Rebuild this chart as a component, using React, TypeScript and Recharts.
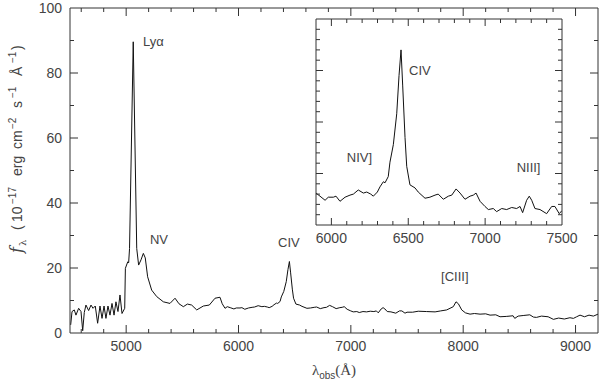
import React from 'react';
import { LineChart, Line, XAxis, YAxis, ReferenceDot } from 'recharts';

const wave = [
  4506, 4518, 4538, 4553, 4577, 4598, 4613, 4627, 4642, 4666, 4687, 4705, 4725, 4746, 4767, 4785,
  4803, 4820, 4838, 4856, 4874, 4892, 4909, 4927, 4945, 4963, 4987, 4993, 5014, 5022, 5030, 5063,
  5094, 5111, 5132, 5153, 5170, 5191, 5227, 5272, 5331, 5390, 5435, 5470, 5509, 5545, 5583, 5628,
  5687, 5740, 5791, 5835, 5855, 5880,
  5900, 5926, 5959, 5980, 6013, 6030, 6056, 6089, 6121, 6143, 6175, 6208, 6230, 6256, 6273, 6299,
  6316, 6338, 6349, 6370, 6381, 6403, 6425, 6440, 6453, 6464, 6479, 6490, 6511, 6544, 6565, 6609,
  6641, 6674, 6695, 6728, 6761, 6783, 6811, 6837, 6869, 6902, 6923, 6941, 6967, 6999, 7021, 7053,
  7075, 7108, 7140, 7173, 7205, 7227, 7244, 7270, 7287, 7303, 7324, 7357, 7400, 7433, 7454, 7482,
  7500,
  7550, 7600, 7675, 7750, 7800, 7853, 7912, 7936, 7957, 7987, 8020, 8061, 8100, 8150, 8200, 8239,
  8290, 8328, 8383, 8444, 8459, 8489, 8540, 8593, 8625, 8652, 8697, 8756, 8803, 8850, 8900, 8950,
  8981, 9010, 9040, 9080, 9120, 9159, 9200,
];
const flux = [
  2.5, 6.6, 7.1, 5.5, 7.6, 6.6, 0.7, 6.3, 8.6, 6.9, 8.6, 7.6, 8.3, 3.0, 8.3, 4.5,
  8.3, 4.5, 8.3, 5.5, 9.1, 5.5, 9.6, 6.6, 11.7, 6.0, 7.6, 19.9, 21.9, 21.6, 26, 89.6,
  26, 20.9, 22.5, 24.5, 23.1, 17.3, 13.2, 11.2, 9.6, 9.1, 10.7, 9.0, 8.1, 8.9, 8.6, 7.1,
  8.3, 8.6, 10.7, 11.0, 9.0, 7.6,
  8.1, 7.8, 7.4, 7.7, 7.7, 7.8, 7.3, 7.7, 7.9, 8.0, 8.4, 8.1, 8.2, 8.0, 7.8, 8.2,
  8.7, 9.2, 9.1, 9.7, 11.1, 12.8, 15.8, 19.5, 22.0, 18.5, 13.5, 10.7, 8.9, 8.6, 8.2, 7.6,
  7.7, 7.9, 8.0, 7.5, 7.8, 7.9, 8.5, 8.1, 7.5, 7.8, 7.9, 8.1, 7.3, 6.8, 6.5, 6.6,
  6.3, 6.6, 6.5, 6.7, 6.6, 6.8, 6.2, 7.4, 7.8, 7.4, 6.6, 6.5, 6.1, 6.8, 6.8, 6.1,
  6.4,
  6.4, 6.7, 6.6, 6.5, 6.8, 7.1, 8.1, 9.6, 9.0, 7.1, 6.2, 5.8, 6.0, 5.8, 5.9, 5.5,
  5.6, 5.0, 5.1, 5.3, 4.5, 5.2, 5.4, 5.6, 4.9, 4.8, 5.2, 5.0, 4.2, 4.6, 4.3, 4.7,
  4.5, 5.0, 5.5, 5.0, 5.5, 5.2, 5.8,
];

const mainXDomain = [4500, 9200];
const mainYDomain = [0, 100];
const mainXTicks = [4600, 4800, 5000, 5200, 5400, 5600, 5800, 6000, 6200, 6400, 6600, 6800, 7000,
  7200, 7400, 7600, 7800, 8000, 8200, 8400, 8600, 8800, 9000];
const mainXLabels = [5000, 6000, 7000, 8000, 9000];
const mainYTicks = [10, 20, 30, 40, 50, 60, 70, 80, 90];
const mainYLabels = [0, 20, 40, 60, 80, 100];

const insetXDomain = [5900, 7500];
const insetYDomain = [5, 25];
const insetXTicks = [6000, 6100, 6200, 6300, 6400, 6500, 6600, 6700, 6800, 6900, 7000, 7100, 7200, 7300, 7400];
const insetXLabels = [6000, 6500, 7000, 7500];
const insetYTicks = [6, 7, 8, 9, 10, 11, 12, 13, 14, 15, 16, 17, 18, 19, 20, 21, 22, 23, 24];
const insetYMajors = [10, 15, 20];

// line identifications: text, wavelength of its left edge, flux at its baseline
const mainLines = [
  { name: 'Lyα', w: 5150, f: 88.3 },
  { name: 'NV', w: 5212, f: 27.4 },
  { name: 'CIV', w: 6352, f: 26.6 },
  { name: '[CIII]', w: 7803, f: 16.1 },
];
const insetLines = [
  { name: 'CIV', w: 6505, f: 19.6 },
  { name: 'NIV]', w: 6100, f: 11.1 },
  { name: 'NIII]', w: 7205, f: 10.1 },
];

const spectrum = wave.map((w, i) => ({ wave: w, flux: flux[i] }));
const insetData = spectrum.filter(d => d.wave >= 5900 && d.wave <= 7500);

const AXIS = '#333';
const TEXT = '#444';
const FONT = '"Liberation Sans", Arial, sans-serif';

// tick labels only; tick marks are drawn as reference dots below
const xLabel = (labels: number[]) => (p: any) =>
  labels.includes(p.payload.value) ? (
    <text x={p.x} y={Number(p.y) + 18} textAnchor="middle" fontSize={14} fontFamily={FONT} fill={TEXT}>
      {p.payload.value}
    </text>
  ) : <g />;

const yLabel = (p: any) => (
  <text x={Number(p.x) - 8} y={Number(p.y) + 5} textAnchor="end" fontSize={14} fontFamily={FONT} fill={TEXT}>
    {p.payload.value}
  </text>
);

// inward tick mark of fixed pixel length; dx/dy give its direction
const tickMark = (dx: number, dy: number, len: number) => (p: any) => (
  <path d={`M${p.cx},${p.cy}l${dx * len},${dy * len}`} stroke={AXIS} strokeWidth={1} fill="none" />
);

const lineLabel = (name: string) => (p: any) => (
  <text x={p.cx} y={p.cy} fontSize={13} fontFamily={FONT} fill={TEXT}>{name}</text>
);

const YTitle = () => (
  <g transform="translate(22,253) rotate(-90)" fontFamily={FONT} fill={TEXT} fontSize={14}>
    <text x={0} y={0} fontFamily='"DejaVu Serif", serif' fontStyle="italic" fontSize={16}>f</text>
    <text x={7} y={4} fontFamily='"DejaVu Serif", serif' fontSize={10}>λ</text>
    <text x={23} y={0}>(</text>
    <text x={31} y={0}>10</text>
    <text x={49} y={-6} fontSize={10}>−17</text>
    <text x={77} y={0}>erg</text>
    <text x={104} y={0}>cm</text>
    <text x={124} y={-6} fontSize={10}>−2</text>
    <text x={145} y={0}>s</text>
    <text x={155} y={-6} fontSize={10}>−1</text>
    <text x={177} y={0}>Å</text>
    <text x={190} y={-6} fontSize={10}>−1</text>
    <text x={203} y={0}>)</text>
  </g>
);

const XTitle = (props: any) => {
  const vb = props.viewBox;
  return (
    <text x={vb.x + vb.width / 2} y={vb.y + 42} textAnchor="middle" fontSize={15} fontFamily='"Liberation Serif", serif' fill={TEXT}>
      <tspan>λ</tspan>
      <tspan fontSize={10} fontFamily={FONT} dy={4}>obs</tspan>
      <tspan dy={-4}>(Å)</tspan>
    </text>
  );
};

// tick marks on all four sides of a frame
const frameTicks = (
  key: string, xTicks: number[], xMajors: number[], yTicks: number[], yMajors: number[],
  xDomain: number[], yDomain: number[], minor: number, major: number,
) => {
  const out: React.ReactNode[] = [];
  xTicks.forEach(v => {
    const len = xMajors.includes(v) ? major : minor;
    out.push(<ReferenceDot key={`${key}b${v}`} xAxisId="b" yAxisId="l" x={v} y={yDomain[0]} r={0} ifOverflow="visible" shape={tickMark(0, -1, len)} />);
    out.push(<ReferenceDot key={`${key}t${v}`} xAxisId="b" yAxisId="l" x={v} y={yDomain[1]} r={0} ifOverflow="visible" shape={tickMark(0, 1, len)} />);
  });
  yTicks.forEach(v => {
    const len = yMajors.includes(v) ? major : minor;
    out.push(<ReferenceDot key={`${key}l${v}`} xAxisId="b" yAxisId="l" x={xDomain[0]} y={v} r={0} ifOverflow="visible" shape={tickMark(1, 0, len)} />);
    out.push(<ReferenceDot key={`${key}r${v}`} xAxisId="b" yAxisId="l" x={xDomain[1]} y={v} r={0} ifOverflow="visible" shape={tickMark(-1, 0, len)} />);
  });
  return out;
};

export default function App() {
  return (
    <div style={{ position: 'absolute', left: 0, top: 0, width: 600, height: 383, background: '#fff' }}>
      <LineChart width={600} height={383} data={spectrum} margin={{ top: 7, right: 1, bottom: 0, left: 0 }}>
        <XAxis
          xAxisId="b" dataKey="wave" type="number" domain={mainXDomain} allowDataOverflow
          ticks={mainXTicks} interval={0} tickSize={0} tickMargin={0} height={50}
          axisLine={{ stroke: AXIS }} tickLine={false} tick={xLabel(mainXLabels)} label={{ content: XTitle }}
        />
        <XAxis
          xAxisId="t" orientation="top" dataKey="wave" type="number" domain={mainXDomain} allowDataOverflow
          height={1} axisLine={{ stroke: AXIS }} tickLine={false} tick={false}
        />
        <YAxis
          yAxisId="l" type="number" domain={mainYDomain} allowDataOverflow ticks={mainYLabels} interval={0}
          tickSize={0} tickMargin={0} width={70} axisLine={{ stroke: AXIS }} tickLine={false}
          tick={yLabel} label={{ content: YTitle }}
        />
        <YAxis
          yAxisId="r" orientation="right" type="number" domain={mainYDomain} allowDataOverflow
          width={1} axisLine={{ stroke: AXIS }} tickLine={false} tick={false}
        />
        <Line
          xAxisId="b" yAxisId="l" type="linear" dataKey="flux" stroke="#111" strokeWidth={1}
          dot={false} isAnimationActive={false}
        />
        <Line
          xAxisId="t" yAxisId="r" type="linear" dataKey="flux" stroke="none" strokeWidth={0}
          dot={false} isAnimationActive={false}
        />
        {frameTicks('m', mainXTicks, mainXLabels, mainYTicks, mainYLabels, mainXDomain, mainYDomain, 4, 8)}
        {mainLines.map(l => (
          <ReferenceDot key={l.name} xAxisId="b" yAxisId="l" x={l.w} y={l.f} r={0} shape={lineLabel(l.name)} />
        ))}
      </LineChart>

      <div style={{ position: 'absolute', left: 314, top: 17 }}>
        <LineChart width={270} height={238} data={insetData} margin={{ top: 1, right: 21, bottom: 0, left: 1 }}>
          <XAxis
            xAxisId="b" dataKey="wave" type="number" domain={insetXDomain} allowDataOverflow
            ticks={insetXLabels} interval={0} tickSize={0} tickMargin={0} height={30}
            axisLine={{ stroke: AXIS }} tickLine={false} tick={xLabel(insetXLabels)}
          />
          <XAxis
            xAxisId="t" orientation="top" dataKey="wave" type="number" domain={insetXDomain} allowDataOverflow
            height={1} axisLine={{ stroke: AXIS }} tickLine={false} tick={false}
          />
          <YAxis
            yAxisId="l" type="number" domain={insetYDomain} allowDataOverflow width={1}
            axisLine={{ stroke: AXIS }} tickLine={false} tick={false}
          />
          <YAxis
            yAxisId="r" orientation="right" type="number" domain={insetYDomain} allowDataOverflow width={1}
            axisLine={{ stroke: AXIS }} tickLine={false} tick={false}
          />
          <Line
            xAxisId="b" yAxisId="l" type="linear" dataKey="flux" stroke="#111" strokeWidth={1}
            dot={false} isAnimationActive={false}
          />
          <Line
            xAxisId="t" yAxisId="r" type="linear" dataKey="flux" stroke="none" strokeWidth={0}
            dot={false} isAnimationActive={false}
          />
          {frameTicks('i', insetXTicks, insetXLabels, insetYTicks, insetYMajors, insetXDomain, insetYDomain, 4, 7)}
          {insetLines.map(l => (
            <ReferenceDot key={l.name} xAxisId="b" yAxisId="l" x={l.w} y={l.f} r={0} shape={lineLabel(l.name)} />
          ))}
        </LineChart>
      </div>
    </div>
  );
}
